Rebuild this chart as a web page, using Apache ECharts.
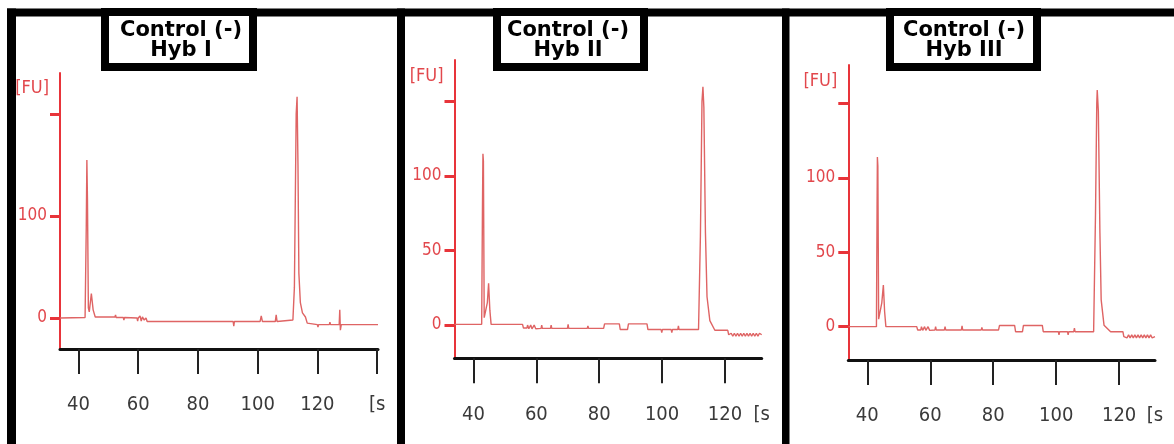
<!DOCTYPE html>
<html>
<head>
<meta charset="utf-8">
<script src="https://cdn.jsdelivr.net/npm/echarts@6/dist/echarts.min.js"></script>
<style>
  html, body { margin: 0; padding: 0; background: #fff; }
  #chart { width: 1174px; height: 444px; }
</style>
</head>
<body>
<div id="chart"></div>
<script>
// ---------- Data ----------
const panelTitles = ['Control (-)\nHyb I', 'Control (-)\nHyb II', 'Control (-)\nHyb III'];
const yAxisName = '[FU]';
const xAxisName = '[s';

const xTicks1 = [40, 60, 80, 100, 120, 140];
const xLabels1 = [40, 60, 80, 100, 120, 140];
const xTicks23 = [40, 60, 80, 100, 120];
const yTicks1 = [0, 100, 200];
const yLabels1 = [0, 100];
const yTicks23 = [0, 50, 100, 150];
const yLabels23 = [0, 50, 100];

// Panel 1 (Hyb I)
const time1 = [33.8, 42.2, 42.6, 42.8, 43.0, 43.3, 43.6, 44.3, 44.9, 45.6,
  52.2, 52.4, 52.6, 55.0, 55.2, 55.4, 59.6, 59.8, 60.0, 60.6, 61.0, 61.4, 62.0, 62.6, 63.0,
  91.8, 92.0, 92.2, 100.8, 101.2, 101.6, 105.9, 106.2, 106.5,
  111.8, 112.3, 112.9, 113.2, 113.5, 113.8, 114.3, 115.0, 116.0, 116.6, 117.2,
  120.0, 120.2, 120.4, 124.0, 124.2, 124.4, 127.3, 127.5, 127.7, 128.0, 140.3];
const fu1 = [0, 0.5, 90, 155, 116, 10, 6, 24, 8, 1,
  1, 3, 0.5, 0.5, -2, 0.5, 0, -3, 0, 2, -3, 1, -2, 0, -3.5,
  -3.5, -8, -3.5, -3.5, 2, -3.5, -3.5, 3, -3.5,
  -2, 30, 200, 217, 150, 44, 15, 5, 1, -5, -6.5,
  -6.5, -9, -6.5, -6.5, -4, -6.5, -6.5, 8, -12, -6.5, -6.5];

// Panel 2 (Hyb II)
const time2 = [33.95, 42.6, 42.85, 43.0, 43.15, 43.4, 43.8, 44.4, 44.8, 45.2, 45.6,
  55.6, 55.9, 57.0, 57.2, 57.6, 58.2, 58.6, 59.3, 59.8, 61.5, 61.7, 61.9, 64.5, 64.7, 64.9,
  69.9, 70.1, 70.3, 76.2, 76.4, 76.6, 81.4, 81.7, 86.4, 86.7, 89.0, 89.3, 95.2, 95.5,
  99.7, 99.9, 100.1, 102.9, 103.1, 103.3, 105.0, 105.2, 105.4,
  111.6, 112.2, 112.7, 113.0, 113.3, 113.8, 114.3, 115.2, 116.8, 120.9, 121.2,
  122.0, 122.5, 123.0, 123.5, 124.0, 124.5, 125.0, 125.5, 126.0, 126.5, 127.0, 127.5,
  128.0, 128.5, 129.0, 129.5, 130.0, 130.5, 131.0, 131.7];
const fu2 = [0.5, 0.5, 80, 115, 110, 5, 6, 15, 28, 10, 0.5,
  0.5, -2, -2, 0, -2.5, 0, -2.5, 0, -2.5, -2.2, 0, -2.2, -2.2, 0, -2.2,
  -2.2, 0.5, -2.2, -2.2, -0.5, -2.2, -2.2, 0.8, 0.8, -3, -3, 0.8, 0.8, -3,
  -3, -5, -3, -3, -5, -3, -3, -0.5, -3,
  -3, 60, 150, 160, 146, 62, 19, 3, -3.5, -3.5, -6.5,
  -5.5, -7.5, -5.5, -7.5, -5.5, -7.5, -5.5, -7.5, -5.5, -7.5, -5.5, -7.5,
  -5.5, -7.5, -5.5, -7.5, -5.5, -7.5, -5.5, -6.5];

// Panel 3 (Hyb III)
const time3 = [33.96, 42.9, 43.1, 43.2, 43.35, 43.6, 44.0, 44.6, 45.1, 45.5, 45.9,
  55.7, 56.0, 57.0, 57.2, 57.6, 58.2, 58.6, 59.3, 59.8, 61.5, 61.7, 61.9, 64.5, 64.7, 64.9,
  69.9, 70.1, 70.3, 76.2, 76.4, 76.6, 81.7, 82.0, 86.8, 87.1, 89.3, 89.6, 95.6, 95.9,
  100.7, 100.9, 101.1, 103.6, 103.8, 104.0, 105.6, 105.8, 106.0,
  111.9, 112.5, 112.9, 113.05, 113.4, 113.9, 114.3, 115.2, 117.3, 121.2, 121.5,
  122.0, 122.5, 123.0, 123.5, 124.0, 124.5, 125.0, 125.5, 126.0, 126.5, 127.0, 127.5,
  128.0, 128.5, 129.0, 129.5, 130.0, 130.5, 131.4];
const fu3 = [0, 0, 80, 114, 108, 5, 6, 16, 28, 10, 0,
  0, -2.2, -2.2, 0, -2.5, 0, -2.5, 0, -2.5, -2.2, 0, -2.2, -2.2, 0, -2.2,
  -2.2, 0.5, -2.2, -2.2, -0.5, -2.2, -2.2, 0.8, 0.8, -3.4, -3.4, 0.8, 0.8, -3.4,
  -3.4, -5.5, -3.4, -3.4, -5.5, -3.4, -3.4, -1, -3.4,
  -3.4, 76, 150, 159, 145, 63, 18, 1, -3.4, -3.4, -6.7,
  -5.5, -7.5, -5.5, -7.5, -5.5, -7.5, -5.5, -7.5, -5.5, -7.5, -5.5, -7.5,
  -5.5, -7.5, -5.5, -7.5, -5.5, -7.5, -6.7];

// ---------- Build ----------
const FONT = "'Liberation Sans Narrow','DejaVu Sans Condensed','Liberation Sans',sans-serif";
const RED = '#e8343a';
const TRACE = '#df6464';

const panels = [
  { grid: { left: 60, top: 73, width: 318, height: 276 }, xMin: 33.8, xMax: 140.3, yMin: -30.4, yMax: 240.2,
    xTicks: xTicks1, xLabels: xLabels1, yTicks: yTicks1, yLabels: yLabels1, nameGap: -24,
    t: time1, v: fu1, box: [101, 8, 156, 63], textX: 181 },
  { grid: { left: 454.5, top: 60, width: 307.2, height: 298.3 }, xMin: 33.95, xMax: 131.7, yMin: -22.3, yMax: 177.9,
    xTicks: xTicks23, xLabels: xTicks23.concat([131.7]), yTicks: yTicks23, yLabels: yLabels23, nameGap: -25,
    t: time2, v: fu2, box: [493, 8, 155, 63], textX: 568 },
  { grid: { left: 848.3, top: 65, width: 306.7, height: 295 }, xMin: 33.96, xMax: 131.4, yMin: -22.4, yMax: 175.8,
    xTicks: xTicks23, xLabels: xTicks23.concat([131.4]), yTicks: yTicks23, yLabels: yLabels23, nameGap: -25,
    t: time3, v: fu3, box: [886, 8, 155, 63], textX: 964 }
];

const grids = [], xAxes = [], yAxes = [], series = [];
panels.forEach((p, i) => {
  grids.push(Object.assign({ outerBoundsMode: 'none', containLabel: false }, p.grid));
  xAxes.push({
    type: 'value', gridIndex: i, min: p.xMin, max: p.xMax,
    axisLine: { onZero: false, lineStyle: { color: '#111', width: 3 } },
    axisTick: { customValues: p.xTicks, length: 25, lineStyle: { color: '#222', width: 2 } },
    axisLabel: {
      customValues: p.xLabels, margin: 46, fontSize: 20, fontFamily: FONT, color: '#3a3a3a',
      formatter: v => (v > 125 ? xAxisName : String(Math.round(v)))
    },
    splitLine: { show: false }
  });
  yAxes.push({
    type: 'value', gridIndex: i, min: p.yMin, max: p.yMax,
    axisLine: { onZero: false, lineStyle: { color: RED, width: 2 } },
    axisTick: { customValues: p.yTicks, length: 10, lineStyle: { color: RED, width: 3 } },
    axisLabel: { customValues: p.yLabels, margin: 13, fontSize: 17, fontFamily: FONT, color: '#e2474c' },
    splitLine: { show: false },
    name: yAxisName, nameLocation: 'end', nameGap: p.nameGap,
    nameTextStyle: { align: 'right', verticalAlign: 'bottom', padding: [0, 11, 0, 0], fontSize: 18, fontFamily: FONT, color: '#e2474c' }
  });
  series.push({
    type: 'line', xAxisIndex: i, yAxisIndex: i, showSymbol: false, symbol: 'none',
    lineStyle: { color: TRACE, width: 1.4 }, silent: true,
    data: p.t.map((t, k) => [t, p.v[k]])
  });
});

const graphics = [
  { type: 'rect', z: 100, shape: { x: 7, y: 8.5, width: 1167, height: 8 }, style: { fill: '#000' } },
  { type: 'rect', z: 100, shape: { x: 7, y: 8.5, width: 9, height: 436 }, style: { fill: '#000' } },
  { type: 'rect', z: 100, shape: { x: 397, y: 8.5, width: 8, height: 436 }, style: { fill: '#000' } },
  { type: 'rect', z: 100, shape: { x: 782, y: 8.5, width: 7.5, height: 436 }, style: { fill: '#000' } }
];
panels.forEach((p, i) => {
  const [bx, by, bw, bh] = p.box;
  graphics.push({ type: 'rect', z: 110, shape: { x: bx + 4, y: by + 4, width: bw - 8, height: bh - 8 },
    style: { fill: '#fff', stroke: '#000', lineWidth: 8 } });
  graphics.push({ type: 'text', z: 120, x: p.textX, y: 40.5,
    style: { text: panelTitles[i], align: 'center', verticalAlign: 'middle', fontSize: 21, fontWeight: 'bold',
      fontFamily: "'DejaVu Sans', sans-serif", lineHeight: 20, fill: '#000' } });
});

const chart = echarts.init(document.getElementById('chart'), null, { renderer: 'canvas' });
chart.setOption({
  animation: false,
  backgroundColor: '#fff',
  grid: grids, xAxis: xAxes, yAxis: yAxes, series: series,
  graphic: graphics
});
</script>
</body>
</html>
